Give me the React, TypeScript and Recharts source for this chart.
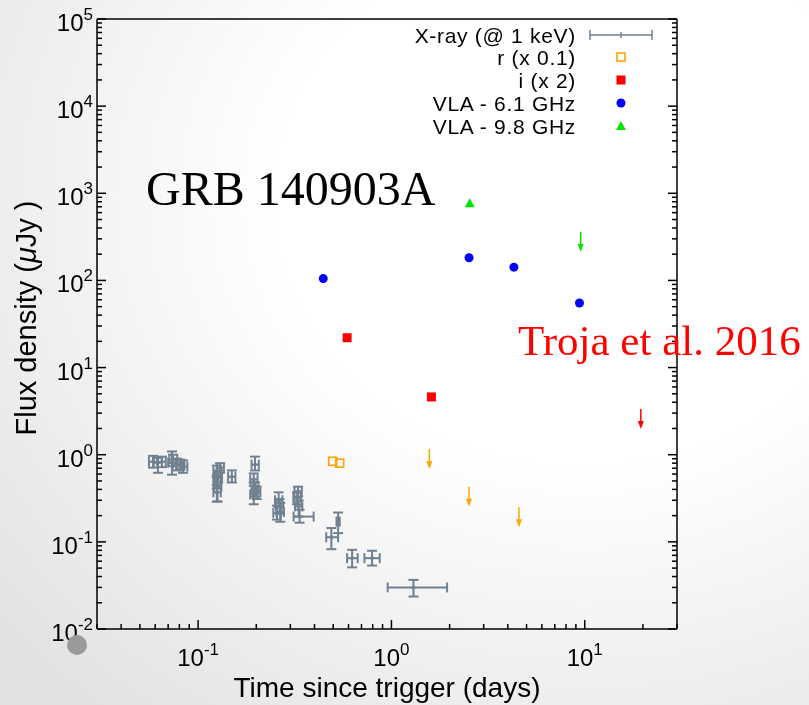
import React from 'react'
import { ScatterChart, Scatter, XAxis, YAxis, ErrorBar } from 'recharts'

const W = 809
const H = 705

const SANS = '"Liberation Sans", Arial, Helvetica, sans-serif'
const SERIF = '"Liberation Serif", "DejaVu Serif", serif'

// X-ray (@ 1 keV): [t, tLo, tHi, flux, fluxLo, fluxHi] — days, µJy
const XRAY: number[][] = [
  [0.0585, 0.0557, 0.0614, 0.83, 0.71, 0.97],
  [0.062, 0.059, 0.065, 0.81, 0.62, 0.92],
  [0.065, 0.062, 0.068, 0.83, 0.72, 0.95],
  [0.0733, 0.07, 0.077, 0.81, 0.59, 1.09],
  [0.0742, 0.071, 0.078, 0.88, 0.74, 1.0],
  [0.0778, 0.074, 0.082, 0.77, 0.66, 0.9],
  [0.0807, 0.077, 0.085, 0.77, 0.67, 0.88],
  [0.0836, 0.08, 0.088, 0.73, 0.62, 0.86],
  [0.125, 0.12, 0.131, 0.64, 0.55, 0.75],
  [0.127, 0.122, 0.133, 0.56, 0.48, 0.66],
  [0.125, 0.12, 0.131, 0.49, 0.41, 0.58],
  [0.126, 0.121, 0.132, 0.43, 0.29, 0.54],
  [0.125, 0.12, 0.131, 0.37, 0.29, 0.45],
  [0.13, 0.125, 0.136, 0.71, 0.62, 0.8],
  [0.1495, 0.143, 0.156, 0.56, 0.48, 0.66],
  [0.197, 0.189, 0.206, 0.77, 0.66, 0.95],
  [0.194, 0.186, 0.203, 0.52, 0.44, 0.61],
  [0.197, 0.189, 0.206, 0.4, 0.33, 0.48],
  [0.194, 0.186, 0.203, 0.35, 0.27, 0.48],
  [0.201, 0.193, 0.21, 0.37, 0.31, 0.43],
  [0.261, 0.25, 0.273, 0.3, 0.25, 0.37],
  [0.264, 0.253, 0.276, 0.255, 0.21, 0.31],
  [0.266, 0.255, 0.278, 0.22, 0.17, 0.28],
  [0.256, 0.245, 0.268, 0.215, 0.18, 0.26],
  [0.329, 0.315, 0.344, 0.38, 0.33, 0.43],
  [0.325, 0.311, 0.34, 0.32, 0.27, 0.37],
  [0.331, 0.317, 0.346, 0.255, 0.195, 0.3],
  [0.335, 0.312, 0.396, 0.195, 0.166, 0.234],
  [0.53, 0.52, 0.54, 0.171, 0.126, 0.217],
  [0.489, 0.46, 0.53, 0.113, 0.0824, 0.144],
  [0.626, 0.59, 0.669, 0.065, 0.051, 0.081],
  [0.794, 0.725, 0.87, 0.065, 0.0535, 0.079],
  [1.3, 0.956, 1.94, 0.03, 0.0236, 0.0366],
]

// optical / radio detections: [t, flux]
const R_BAND = [[0.497, 0.84], [0.54, 0.8]]
const I_BAND = [[0.59, 22], [1.61, 4.6]]
const VLA_61 = [[0.444, 105], [2.52, 182], [4.3, 142], [9.39, 55]]
const VLA_98 = [[2.54, 767]]

// upper limits: [t, flux]
const R_LIMITS = [[1.57, 1.16], [2.52, 0.43], [4.57, 0.25]]
const I_LIMITS = [[19.5, 3.35]]
const VLA_98_LIMITS = [[9.53, 360]]

const X_DECADES = [0.01, 0.1, 1, 10]
const Y_DECADES = [0.01, 0.1, 1, 10, 100, 1000, 10000]
const MANTISSAS = [1, 2, 3, 4, 5, 6, 7, 8, 9]
const X_DOMAIN = [0.03, 30]
const Y_DOMAIN = [0.01, 100000]

const X_TICKS = X_DECADES.flatMap((d) => MANTISSAS.map((m) => m * d))
  .filter((v) => v >= X_DOMAIN[0] - 1e-9 && v <= X_DOMAIN[1] + 1e-9)
const Y_TICKS = Y_DECADES.flatMap((d) => MANTISSAS.map((m) => m * d)).concat([100000])

const LEGEND_LABELS = ['X-ray (@ 1 keV)', 'r (x 0.1)', 'i (x 2)', 'VLA - 6.1 GHz', 'VLA - 9.8 GHz']

const C_XRAY = '#708090'
const C_R = '#ffa500'
const C_I = '#ff0000'
const C_61 = '#0000ff'
const C_98 = '#00e600'

const toPts = (rows: number[][]) => rows.map(([t, f]) => ({ t, f }))

const xrayData = XRAY.map(([t, tLo, tHi, f, fLo, fHi]) => ({
  t,
  f,
  tErr: [t - tLo, tHi - t],
  fErr: [f - fLo, fHi - f],
}))

const isMajor = (v: number) => {
  const l = Math.log10(v)
  return Math.abs(l - Math.round(l)) < 1e-6
}
const tickLen = (v: number) => (isMajor(v) ? 9 : 5)

function Pow10({ x, y, v, anchor }: { x: number; y: number; v: number; anchor: string }) {
  const e = Math.round(Math.log10(v))
  return (
    <text x={x} y={y} textAnchor={anchor as any} fontFamily={SANS} fontSize={24} fill="#000">
      10
      <tspan dy={-11} fontSize={17}>
        {e}
      </tspan>
    </text>
  )
}

// gnuplot-style inward ticks on all four sides
function BottomTick({ x, y, payload }: any) {
  const v = payload.value
  return (
    <g>
      <line x1={x} x2={x} y1={y} y2={y - tickLen(v)} stroke="#000" strokeWidth={1.5} />
      {isMajor(v) && <Pow10 x={x} y={y + 37} v={v} anchor="middle" />}
    </g>
  )
}
function TopTick({ x, y, payload }: any) {
  const v = payload.value
  return <line x1={x} x2={x} y1={y} y2={y + tickLen(v)} stroke="#000" strokeWidth={1.5} />
}
function LeftTick({ x, y, payload }: any) {
  const v = payload.value
  return (
    <g>
      <line x1={x} x2={x + tickLen(v)} y1={y} y2={y} stroke="#000" strokeWidth={1.5} />
      {isMajor(v) && <Pow10 x={x - 4} y={y + 12} v={v} anchor="end" />}
    </g>
  )
}
function RightTick({ x, y, payload }: any) {
  const v = payload.value
  return <line x1={x} x2={x - tickLen(v)} y1={y} y2={y} stroke="#000" strokeWidth={1.5} />
}

const xrayMark = ({ cx, cy }: any) => (
  <path d={`M${cx - 2},${cy}H${cx + 2}M${cx},${cy - 2}V${cy + 2}`} stroke={C_XRAY} strokeWidth={2} />
)
const openSquare = ({ cx, cy }: any) => (
  <rect x={cx - 4} y={cy - 4} width={8} height={8} fill="none" stroke={C_R} strokeWidth={1.6} />
)
const redSquare = ({ cx, cy }: any) => <rect x={cx - 4.5} y={cy - 4.5} width={9} height={9} fill={C_I} />
const blueDot = ({ cx, cy }: any) => <circle cx={cx} cy={cy} r={4.5} fill={C_61} />
const greenTriangle = ({ cx, cy }: any) => (
  <polygon points={`${cx},${cy - 5} ${cx - 5},${cy + 4} ${cx + 5},${cy + 4}`} fill={C_98} />
)
const limitArrow = (color: string) => ({ cx, cy }: any) => (
  <g>
    <line x1={cx} x2={cx} y1={cy} y2={cy + 14} stroke={color} strokeWidth={1.5} />
    <polygon points={`${cx - 3},${cy + 12} ${cx + 3},${cy + 12} ${cx},${cy + 20}`} fill={color} />
  </g>
)

function Overlay() {
  const rowY = [35, 57, 80, 103, 126]
  const sx = 621
  return (
    <svg width={W} height={H} style={{ position: 'absolute', left: 0, top: 0, pointerEvents: 'none' }}>
      {LEGEND_LABELS.map((l, i) => (
        <text
          key={l}
          x={576}
          y={rowY[i] + 7.5}
          textAnchor="end"
          fontFamily={SANS}
          fontSize={21}
          letterSpacing={0.7}
          fill="#000"
        >
          {l}
        </text>
      ))}
      <g stroke={C_XRAY} strokeWidth={1.5}>
        <line x1={590} x2={652} y1={rowY[0]} y2={rowY[0]} />
        <line x1={590} x2={590} y1={rowY[0] - 5} y2={rowY[0] + 5} />
        <line x1={652} x2={652} y1={rowY[0] - 5} y2={rowY[0] + 5} />
        <line x1={sx} x2={sx} y1={rowY[0] - 3} y2={rowY[0] + 3} />
      </g>
      {openSquare({ cx: sx, cy: rowY[1] })}
      {redSquare({ cx: sx, cy: rowY[2] })}
      {blueDot({ cx: sx, cy: rowY[3] })}
      {greenTriangle({ cx: sx, cy: rowY[4] })}

      <text x={146} y={205} fontFamily={SERIF} fontSize={48} fill="#000">
        GRB 140903A
      </text>
      <text x={518} y={355} fontFamily={SERIF} fontSize={43} fill="#ff0000">
        Troja et al. 2016
      </text>

      <text x={387} y={697} textAnchor="middle" fontFamily={SANS} fontSize={28} fill="#000">
        Time since trigger (days)
      </text>
      <text
        x={0}
        y={0}
        transform="translate(36 318) rotate(-90)"
        textAnchor="middle"
        fontFamily={SANS}
        fontSize={29}
        fill="#000"
      >
        Flux density (<tspan fontStyle="italic">μ</tspan>Jy )
      </text>
      <circle cx={77} cy={645} r={10} fill="#9a9a9a" />
    </svg>
  )
}

export default function App() {
  return (
    <div
      style={{
        position: 'fixed',
        left: 0,
        top: 0,
        width: W,
        height: H,
        overflow: 'hidden',
        background: 'radial-gradient(ellipse 95% 95% at 72% 28%, #ffffff 40%, #e2e2e2 100%)',
      }}
    >
      <ScatterChart width={W} height={H} margin={{ top: 18, right: 131, bottom: 0, left: 0 }}>
        <XAxis
          xAxisId="b"
          dataKey="t"
          type="number"
          scale="log"
          domain={X_DOMAIN}
          allowDataOverflow
          ticks={X_TICKS}
          interval={0}
          tick={BottomTick}
          tickLine={false}
          tickSize={0}
          tickMargin={0}
          height={76}
          axisLine={{ stroke: '#000', strokeWidth: 1.5 }}
        />
        <XAxis
          xAxisId="t"
          orientation="top"
          type="number"
          scale="log"
          domain={X_DOMAIN}
          allowDataOverflow
          ticks={X_TICKS}
          interval={0}
          tick={TopTick}
          tickLine={false}
          tickSize={0}
          tickMargin={0}
          height={1}
          axisLine={{ stroke: '#000', strokeWidth: 1.5 }}
        />
        <YAxis
          yAxisId="l"
          dataKey="f"
          type="number"
          scale="log"
          domain={Y_DOMAIN}
          allowDataOverflow
          ticks={Y_TICKS}
          interval={0}
          tick={LeftTick}
          tickLine={false}
          tickSize={0}
          tickMargin={0}
          width={97}
          axisLine={{ stroke: '#000', strokeWidth: 1.5 }}
        />
        <YAxis
          yAxisId="r"
          orientation="right"
          type="number"
          scale="log"
          domain={Y_DOMAIN}
          allowDataOverflow
          ticks={Y_TICKS}
          interval={0}
          tick={RightTick}
          tickLine={false}
          tickSize={0}
          tickMargin={0}
          width={1}
          axisLine={{ stroke: '#000', strokeWidth: 1.5 }}
        />

        <Scatter xAxisId="b" yAxisId="l" data={xrayData} dataKey="f" shape={xrayMark} isAnimationActive={false}>
          <ErrorBar dataKey="fErr" direction="y" width={5} stroke={C_XRAY} strokeWidth={2} />
          <ErrorBar dataKey="tErr" direction="x" width={5} stroke={C_XRAY} strokeWidth={2} />
        </Scatter>
        <Scatter xAxisId="b" yAxisId="l" data={toPts(R_BAND)} dataKey="f" shape={openSquare} isAnimationActive={false} />
        <Scatter xAxisId="b" yAxisId="l" data={toPts(R_LIMITS)} dataKey="f" shape={limitArrow(C_R)} isAnimationActive={false} />
        <Scatter xAxisId="b" yAxisId="l" data={toPts(I_BAND)} dataKey="f" shape={redSquare} isAnimationActive={false} />
        <Scatter xAxisId="b" yAxisId="l" data={toPts(I_LIMITS)} dataKey="f" shape={limitArrow(C_I)} isAnimationActive={false} />
        <Scatter xAxisId="b" yAxisId="l" data={toPts(VLA_61)} dataKey="f" shape={blueDot} isAnimationActive={false} />
        <Scatter xAxisId="b" yAxisId="l" data={toPts(VLA_98)} dataKey="f" shape={greenTriangle} isAnimationActive={false} />
        <Scatter
          xAxisId="b"
          yAxisId="l"
          data={toPts(VLA_98_LIMITS)}
          dataKey="f"
          shape={limitArrow(C_98)}
          isAnimationActive={false}
        />
      </ScatterChart>
      <Overlay />
    </div>
  )
}
